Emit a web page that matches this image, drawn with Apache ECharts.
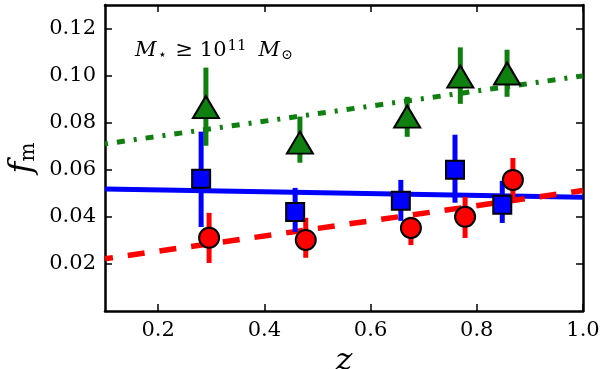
<!DOCTYPE html>
<html><head><meta charset="utf-8">
<script src="https://cdn.jsdelivr.net/npm/echarts@6/dist/echarts.min.js"></script>
<style>html,body{margin:0;padding:0;background:#fff}#c{width:600px;height:369px}</style>
</head><body><div id="c"></div>
<script>
// Data
const zTri = [0.29, 0.467, 0.669, 0.769, 0.857];
const fTri = [0.0866, 0.0715, 0.0826, 0.0996, 0.1009];
const triLo = [0.0702, 0.063, 0.074, 0.088, 0.091];
const triHi = [0.1034, 0.0826, 0.0910, 0.112, 0.111];

const zSq = [0.281, 0.458, 0.657, 0.759, 0.848];
const fSq = [0.0562, 0.0421, 0.0468, 0.060, 0.0451];
const sqLo = [0.0357, 0.0336, 0.0383, 0.046, 0.0374];
const sqHi = [0.0762, 0.0523, 0.0557, 0.0749, 0.0553];

const zCirc = [0.296, 0.478, 0.676, 0.778, 0.868];
const fCirc = [0.0311, 0.0302, 0.0353, 0.040, 0.0557];
const circLo = [0.0204, 0.0226, 0.028, 0.031, 0.047];
const circHi = [0.0417, 0.0396, 0.040, 0.0485, 0.065];

const fitZ = [0.1, 1.0];
const greenFit = [0.071, 0.0999];
const blueFit = [0.0518, 0.0483];
const redFit = [0.0222, 0.0512];

const xTicks = [0.2, 0.4, 0.6, 0.8, 1.0];
const yTicks = [0.02, 0.04, 0.06, 0.08, 0.10, 0.12];

const FONT = 'DejaVu Serif';
const GREEN = '#0f7f0f';
const chart = echarts.init(document.getElementById('c'), null, {renderer: 'canvas'});

function pairs(xs, ys) { return xs.map((x, i) => [x, ys[i]]); }
function errData(xs, lo, hi) { return xs.map((x, i) => [x, lo[i], hi[i]]); }
function errSeries(xs, lo, hi, color) {
  return {
    type: 'custom', z: 3, silent: true,
    data: errData(xs, lo, hi),
    renderItem: function (params, api) {
      const p1 = api.coord([api.value(0), api.value(1)]);
      const p2 = api.coord([api.value(0), api.value(2)]);
      return {type: 'line', shape: {x1: p1[0], y1: p1[1], x2: p2[0], y2: p2[1]},
        style: {stroke: color, lineWidth: 5}};
    }
  };
}
function fitSeries(ys, color, type, width, offset) {
  return {type: 'line', z: 2, data: pairs(fitZ, ys), symbol: 'none', silent: true,
    lineStyle: {color: color, width: width, type: type, dashOffset: offset || 0}};
}
function markSeries(xs, ys, color, symbol, size) {
  return {type: 'scatter', z: 5, data: pairs(xs, ys), symbol: symbol, symbolSize: size,
    itemStyle: {color: color, borderColor: '#000', borderWidth: 2, opacity: 1}};
}

function axis(extra, ticks, showLabel, digits) {
  return Object.assign({
    type: 'value',
    axisLine: {show: true, onZero: false, lineStyle: {color: '#000', width: 2.5}},
    axisTick: {show: true, inside: true, length: 7, customValues: ticks, lineStyle: {color: '#000', width: 1.5}},
    axisLabel: showLabel ? {show: true, customValues: ticks, fontFamily: FONT, fontSize: 21, color: '#000',
      margin: 9, formatter: v => v.toFixed(digits)} : {show: false},
    splitLine: {show: false}
  }, extra);
}

chart.setOption({
  animation: false,
  backgroundColor: '#fff',
  grid: {left: 105, right: 17, top: 5, bottom: 58, show: false, outerBoundsMode: 'none', containLabel: false},
  title: {
    text: '{i|M}{s|⋆}{r|≥ 10}{p|11}{m|M}{s|⊙}',
    left: 130, top: 34,
    textStyle: {
      fontWeight: 'normal',
      rich: {
        i: {fontFamily: FONT, fontStyle: 'italic', fontWeight: 'normal', fontSize: 21, color: '#000'},
        m: {fontFamily: FONT, fontStyle: 'italic', fontWeight: 'normal', fontSize: 21, color: '#000', padding: [0, 0, 0, 12]},
        r: {fontFamily: FONT, fontWeight: 'normal', fontSize: 21, color: '#000', padding: [0, 0, 0, 9]},
        s: {fontFamily: FONT, fontWeight: 'normal', fontSize: 14, color: '#000', verticalAlign: 'bottom', padding: [8, 0, 0, 1]},
        p: {fontFamily: FONT, fontWeight: 'normal', fontSize: 15, color: '#000', verticalAlign: 'top', padding: [0, 0, 8, 1]}
      }
    }
  },
  xAxis: [
    axis({min: 0.1, max: 1.0, position: 'bottom',
      name: 'z', nameLocation: 'middle', nameGap: 32,
      nameTextStyle: {fontFamily: FONT, fontStyle: 'italic', fontSize: 32, color: '#000'}}, xTicks, true, 1),
    axis({min: 0.1, max: 1.0, position: 'top'}, xTicks, false, 1)
  ],
  yAxis: [
    axis({min: 0, max: 0.13, position: 'left',
      name: '{i|f}{s|m}', nameLocation: 'middle', nameGap: 62, nameRotate: 90,
      nameTextStyle: {rich: {
        i: {fontFamily: FONT, fontStyle: 'italic', fontSize: 32, color: '#000'},
        s: {fontFamily: FONT, fontSize: 20, color: '#000', verticalAlign: 'bottom', padding: [12, 0, 0, 0]}
      }}}, yTicks, true, 2),
    axis({min: 0, max: 0.13, position: 'right'}, yTicks, false, 2)
  ],
  series: [
    fitSeries(greenFit, GREEN, [3, 9, 8, 9], 5),
    fitSeries(blueFit, '#0000ff', 'solid', 5),
    fitSeries(redFit, '#ff0000', [17, 15], 5.5, 9),
    errSeries(zTri, triLo, triHi, GREEN),
    errSeries(zSq, sqLo, sqHi, '#0000ff'),
    errSeries(zCirc, circLo, circHi, '#ff0000'),
    markSeries(zTri, fTri, GREEN, 'triangle', [26, 22]),
    markSeries(zSq, fSq, '#0000ff', 'rect', 18),
    markSeries(zCirc, fCirc, '#ff0000', 'circle', 20)
  ]
});
</script></body></html>
